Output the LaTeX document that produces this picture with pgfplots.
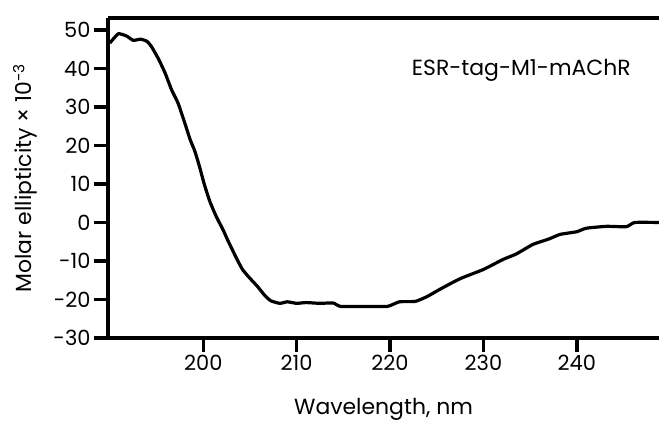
\documentclass[border=0pt]{standalone}
\usepackage{fontspec}
\setmainfont{Poppins}
\usepackage{pgfplots}
\pgfplotsset{compat=1.18}

\begin{document}
\begin{tikzpicture}
\begin{axis}[
    name=ax,
    scale only axis,
    width=551bp, height=320bp,
    xmin=189.8, xmax=248.8,
    ymin=-30, ymax=53.1,
    axis lines=left,
    axis line style={line width=3.5bp, -},
    xtick={200,210,...,240},
    ytick={-30,-20,...,50},
    tick style={line width=3.5bp, black},
    major tick length=14bp,
    tick align=outside,
    tick label style={font=\fontsize{21}{24}\selectfont},
    /pgf/number format/assume math mode=true,
    xlabel={Wavelength, nm},
    ylabel={Molar ellipticity × 10\textsuperscript{-3}},
    label style={font=\fontsize{22}{26}\selectfont},
    xlabel style={yshift=-20bp},
    ylabel style={yshift=9bp},
    clip=false,
]
\addplot[line width=3.2bp, black, smooth, tension=0.3, line join=round] table {
x y
190.0 46.6
190.9 49.0
191.8 48.4
192.5 47.3
193.3 47.6
194.0 47.0
194.5 45.5
195.2 42.5
195.9 38.9
196.6 34.5
197.3 31.0
198.0 26.0
198.6 21.5
199.1 18.5
199.6 14.5
200.1 10.0
200.7 5.5
201.4 1.5
202.1 -1.8
202.6 -4.5
203.1 -7.0
203.6 -9.5
204.2 -12.2
205.0 -14.5
205.8 -16.6
206.5 -18.7
207.2 -20.3
208.2 -21.0
209.0 -20.6
210.0 -21.0
211.0 -20.8
212.5 -21.0
213.9 -20.9
214.7 -21.8
217.0 -21.8
219.7 -21.8
221.0 -20.6
222.7 -20.5
224.0 -19.2
225.3 -17.4
227.5 -14.6
230.0 -12.2
232.1 -9.6
233.5 -8.2
235.3 -5.7
237.0 -4.3
238.2 -3.1
240.0 -2.4
241.0 -1.5
243.2 -1.0
245.3 -1.1
246.2 0.0
248.8 0.0
};
\draw[line width=3.5bp] (rel axis cs:0,1) -- (rel axis cs:1,1);
\node[anchor=east, font=\fontsize{22}{26}\selectfont] at (rel axis cs:0.955,0.835) {ESR-tag-M1-mAChR};
\end{axis}
\pgfresetboundingbox
\useasboundingbox ([xshift=-108bp,yshift=-84bp]ax.south west) rectangle ([yshift=18bp]ax.north east);
\end{tikzpicture}
\end{document}
